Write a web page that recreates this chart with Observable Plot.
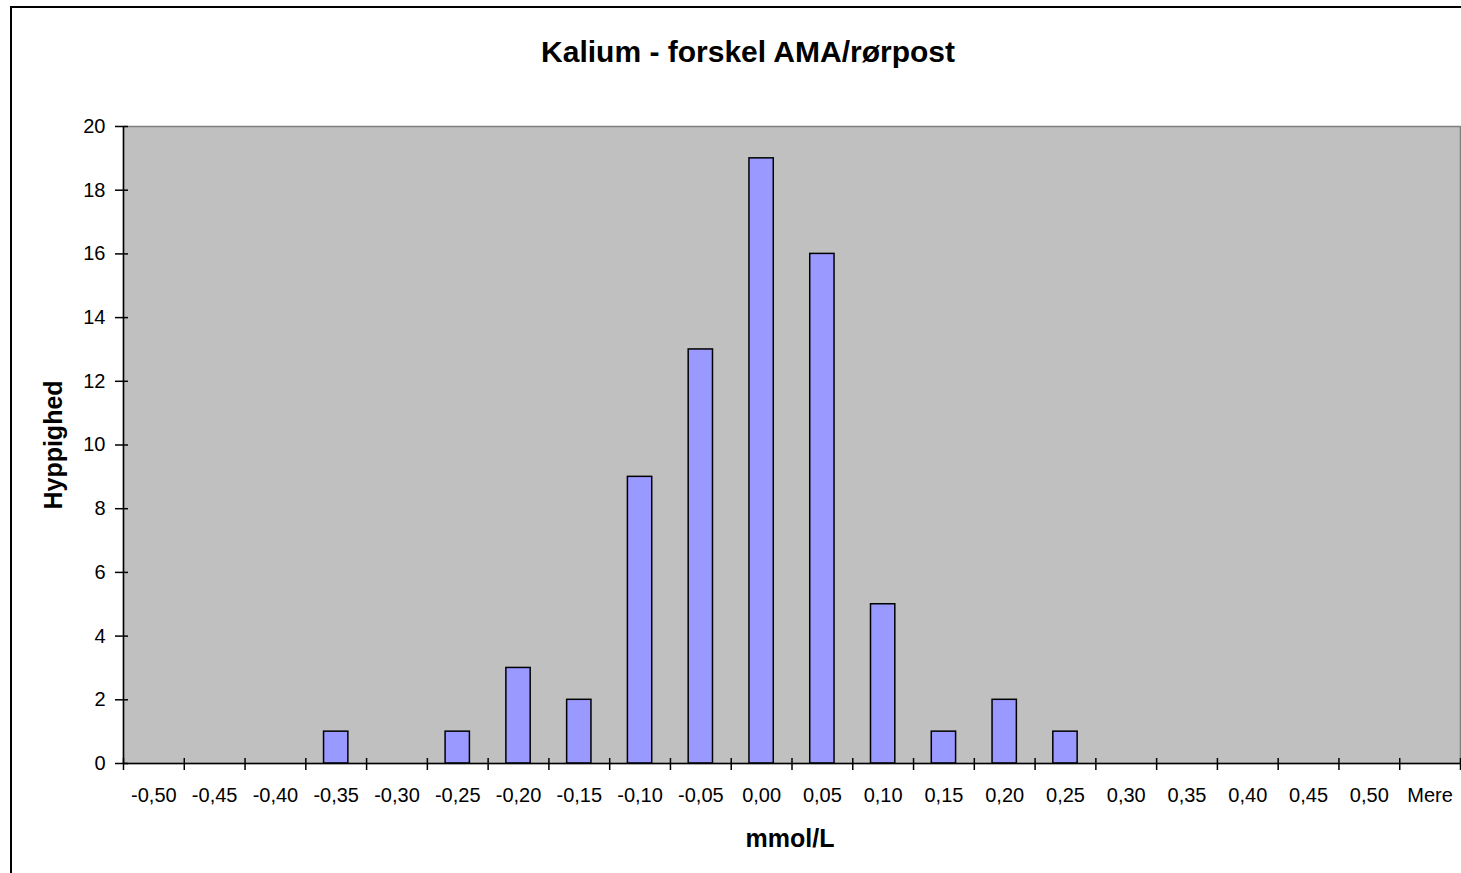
<!DOCTYPE html>
<html>
<head>
<meta charset="utf-8">
<script src="https://cdn.jsdelivr.net/npm/d3@7"></script>
<script src="https://cdn.jsdelivr.net/npm/@observablehq/plot@0.6"></script>
<style>
  html, body { margin: 0; padding: 0; background: #fff; overflow: hidden; }
  #wrap { position: relative; width: 1461px; height: 873px; }
  #border { position: absolute; left: 10px; top: 6px; width: 1500px; height: 900px;
            border-left: 2px solid #000; border-top: 2px solid #000; pointer-events: none; }
  #chart { position: absolute; left: 0; top: 0; }
</style>
</head>
<body>
<div id="wrap">
  <div id="border"></div>
  <div id="chart"></div>
</div>
<script>
const title = "Kalium - forskel AMA/rørpost";
const xLabel = "mmol/L";
const yLabel = "Hyppighed";
const categories = ["-0,50","-0,45","-0,40","-0,35","-0,30","-0,25","-0,20","-0,15","-0,10","-0,05","0,00","0,05","0,10","0,15","0,20","0,25","0,30","0,35","0,40","0,45","0,50","Mere"];
const counts = [0,0,0,1,0,1,3,2,9,13,19,16,5,1,2,1,0,0,0,0,0,0];
const yTicks = [0,2,4,6,8,10,12,14,16,18,20];

const data = categories.map((c, i) => ({cat: c, idx: i, n: counts[i]}));
const bars = data.filter(d => d.n > 0);
const bounds = d3.range(categories.length + 1);
const font = "'Liberation Sans', Arial, sans-serif";

const chart = Plot.plot({
  width: 1461,
  height: 873,
  marginLeft: 123,
  marginRight: 1,
  marginTop: 126,
  marginBottom: 110,
  style: { fontFamily: font, background: "transparent", color: "#000" },
  x: { type: "linear", domain: [0, categories.length], axis: null },
  y: { domain: [0, 20], axis: null },
  marks: [
    Plot.frame({ fill: "#c0c0c0", stroke: "#808080", strokeWidth: 1.5 }),
    Plot.rectY(bars, { x1: d => d.idx + 0.3, x2: d => d.idx + 0.7, y1: 0, y2: "n",
                       fill: "#9999ff", stroke: "#000", strokeWidth: 1.5 }),
    Plot.ruleX([0], { stroke: "#000", strokeWidth: 1.5 }),
    Plot.ruleY([0], { stroke: "#000", strokeWidth: 1.5 }),
    Plot.ruleX(bounds, { x: d => d, y1: 0, y2: 0, insetTop: -5, insetBottom: -7, stroke: "#000", strokeWidth: 1.5 }),
    Plot.ruleY(yTicks, { y: d => d, x1: 0, x2: 0, insetLeft: -8, insetRight: -5, stroke: "#000", strokeWidth: 1.5 }),
    Plot.text(data, { x: d => d.idx + 0.5, y: 0, dy: 32, text: "cat", fontSize: 20, fill: "#000" }),
    Plot.text(yTicks, { x: 0, y: d => d, dx: -18, text: d => String(d), textAnchor: "end", fontSize: 20, fill: "#000" }),
    Plot.text([title], { frameAnchor: "top", lineAnchor: "middle", dy: -74, dx: -44, fontSize: 30, fontWeight: "bold", fill: "#000" }),
    Plot.text([xLabel], { frameAnchor: "bottom", lineAnchor: "middle", dy: 75, dx: -2, fontSize: 25, fontWeight: "bold", fill: "#000" }),
    Plot.text([yLabel], { frameAnchor: "left", textAnchor: "middle", lineAnchor: "middle", dx: -70, rotate: -90, fontSize: 25, fontWeight: "bold", fill: "#000" })
  ]
});
document.getElementById("chart").appendChild(chart);
</script>
</body>
</html>
